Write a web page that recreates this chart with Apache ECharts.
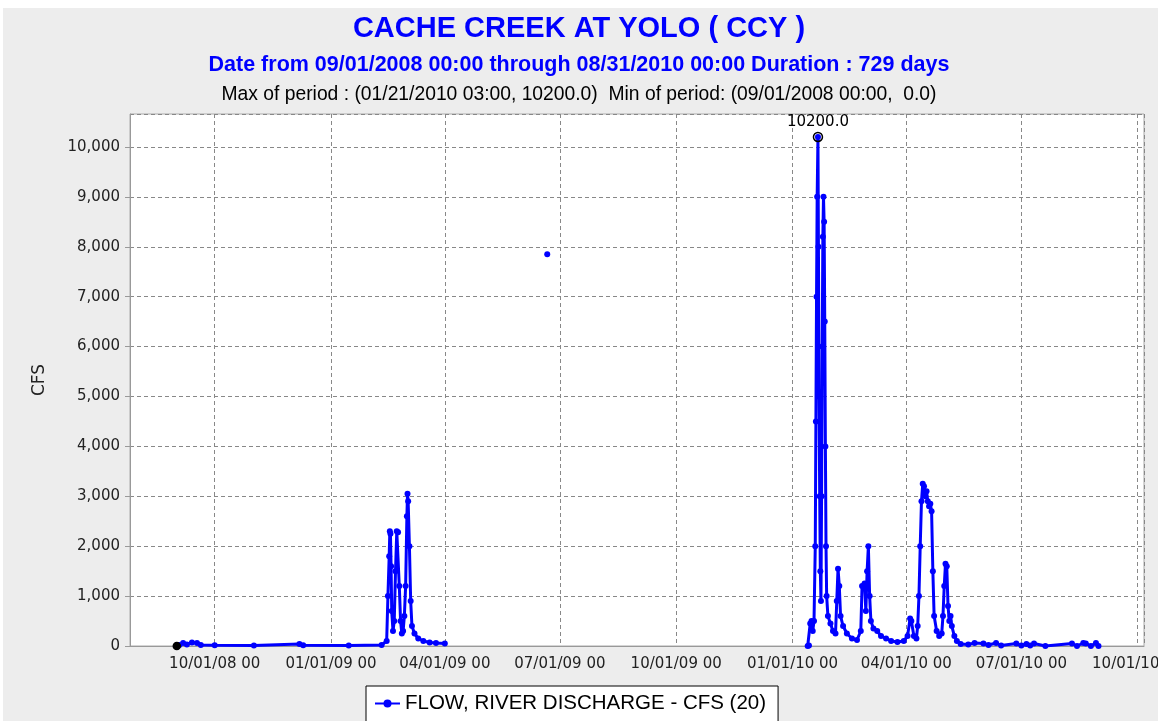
<!DOCTYPE html>
<html><head><meta charset="utf-8"><script src="https://cdn.jsdelivr.net/npm/echarts@6/dist/echarts.min.js"></script>
<style type="text/css">
html, body { height: 100%; margin: 0px; padding: 0px; background: #fff; }
</style></head><body><div id="main" style="width: 1158px;height:721px;"></div><script type="text/javascript">
// flow readings, water year 2009 (Sep 2008 - Apr 2009)
var flow2009 = [
['2008-09-01', 0], ['2008-09-03', 20], ['2008-09-06', 60], ['2008-09-09', 30], ['2008-09-13', 70],
['2008-09-17', 60], ['2008-09-20', 20], ['2008-10-01', 15], ['2008-11-01', 10], ['2008-12-07', 40],
['2008-12-10', 15], ['2009-01-15', 10], ['2009-02-10', 20], ['2009-02-14', 100], ['2009-02-15', 1000],
['2009-02-16', 1800], ['2009-02-16 12:00', 2300], ['2009-02-17', 2250], ['2009-02-17 12:00', 1600],
['2009-02-18', 700], ['2009-02-19', 300], ['2009-02-20', 500], ['2009-02-21', 1500],
['2009-02-22', 2300], ['2009-02-23', 2280], ['2009-02-24', 1200], ['2009-02-25', 500],
['2009-02-26', 250], ['2009-02-27', 300], ['2009-02-28', 600], ['2009-03-01', 1200],
['2009-03-02', 2600], ['2009-03-02 12:00', 3050], ['2009-03-03', 2900], ['2009-03-04', 2000],
['2009-03-05', 900], ['2009-03-06', 400], ['2009-03-08', 250], ['2009-03-11', 150],
['2009-03-15', 100], ['2009-03-20', 70], ['2009-03-25', 60], ['2009-04-01', 50]
];
// lone reading in the data gap
var flowStray = [['2009-06-21', 7850]];
// flow readings, water year 2010 (Jan - Aug 2010)
var flow2010 = [
['2010-01-13', 0], ['2010-01-14', 10], ['2010-01-15', 450], ['2010-01-16', 500], ['2010-01-17', 300],
['2010-01-18', 500], ['2010-01-19', 2000], ['2010-01-19 12:00', 4500], ['2010-01-20', 7000],
['2010-01-20 12:00', 9000], ['2010-01-21 03:00', 10200], ['2010-01-21 12:00', 8000], ['2010-01-22', 5000],
['2010-01-22 12:00', 3000], ['2010-01-23', 1500], ['2010-01-23 12:00', 900], ['2010-01-24', 3000],
['2010-01-24 12:00', 6000], ['2010-01-25', 8200], ['2010-01-25 12:00', 9000], ['2010-01-26', 8500],
['2010-01-26 12:00', 6500], ['2010-01-27', 4000], ['2010-01-27 12:00', 2000], ['2010-01-28', 1000],
['2010-01-29', 600], ['2010-01-31', 450], ['2010-02-02', 300], ['2010-02-04', 250], ['2010-02-05', 900],
['2010-02-06', 1550], ['2010-02-07', 1200], ['2010-02-08', 600], ['2010-02-10', 400], ['2010-02-13', 250],
['2010-02-17', 150], ['2010-02-21', 120], ['2010-02-24', 300], ['2010-02-25', 1200], ['2010-02-27', 1250],
['2010-02-28', 700], ['2010-03-01', 1500], ['2010-03-02', 2000], ['2010-03-03', 1000], ['2010-03-04', 500],
['2010-03-06', 350], ['2010-03-09', 300], ['2010-03-12', 200], ['2010-03-16', 150], ['2010-03-20', 100],
['2010-03-25', 80], ['2010-03-30', 100], ['2010-04-02', 200], ['2010-04-04', 550], ['2010-04-05', 500],
['2010-04-07', 200], ['2010-04-09', 150], ['2010-04-10', 400], ['2010-04-11', 1000], ['2010-04-12', 2000],
['2010-04-13', 2900], ['2010-04-14', 3250], ['2010-04-15', 3200], ['2010-04-16', 3000], ['2010-04-17', 3100],
['2010-04-18', 2900], ['2010-04-19', 2800], ['2010-04-20', 2850], ['2010-04-21', 2700], ['2010-04-22', 1500],
['2010-04-23', 600], ['2010-04-25', 300], ['2010-04-27', 200], ['2010-04-29', 250], ['2010-04-30', 600],
['2010-05-01', 1200], ['2010-05-02', 1650], ['2010-05-03', 1600], ['2010-05-04', 800], ['2010-05-05', 500],
['2010-05-06', 600], ['2010-05-07', 400], ['2010-05-09', 200], ['2010-05-11', 100], ['2010-05-14', 40],
['2010-05-20', 30], ['2010-05-25', 60], ['2010-06-01', 50], ['2010-06-05', 20], ['2010-06-11', 60],
['2010-06-15', 10], ['2010-06-27', 50], ['2010-07-01', 10], ['2010-07-05', 40], ['2010-07-08', 10],
['2010-07-11', 50], ['2010-07-20', 0], ['2010-08-10', 50], ['2010-08-14', 0], ['2010-08-19', 60],
['2010-08-21', 50], ['2010-08-25', 0], ['2010-08-29', 60], ['2010-08-31', 0]
];
var yTicks = [0, 1000, 2000, 3000, 4000, 5000, 6000, 7000, 8000, 9000, 10000];
var maxPoint = ['2010-01-21 03:00', 10200];
var minPoint = ['2008-09-01', 0];

var gap = [['2009-04-02', '-']];
var gap2 = [['2009-06-22', '-']];
var seriesData = flow2009.concat(gap, flowStray, gap2, flow2010);

function pad(n) { return n < 10 ? '0' + n : '' + n; }

var myChart = echarts.init(document.getElementById('main'));
var option = {
    backgroundColor: '#ffffff',
    animation: false,
    graphic: [{
        type: 'rect', left: 3, top: 8, z: -10,
        shape: { width: 1155, height: 713 },
        style: { fill: '#ededed' }
    }],
    title: [{
        text: 'CACHE CREEK AT YOLO ( CCY )',
        left: 'center', top: 9,
        textStyle: { color: '#0000ff', fontSize: 29, fontWeight: 'bold', fontFamily: 'Liberation Sans' }
    }, {
        text: 'Date from 09/01/2008 00:00 through 08/31/2010 00:00 Duration : 729 days',
        left: 'center', top: 49,
        textStyle: { color: '#0000ff', fontSize: 21.5, fontWeight: 'bold', fontFamily: 'Liberation Sans' }
    }, {
        text: 'Max of period : (01/21/2010 03:00, 10200.0)  Min of period: (09/01/2008 00:00,  0.0)',
        left: 'center', top: 80,
        textStyle: { color: '#000', fontSize: 19.3, fontWeight: 'normal', fontFamily: 'Liberation Sans' }
    }],
    legend: {
        left: 366, top: 686,
        backgroundColor: '#fff', borderColor: '#000', borderWidth: 1,
        padding: [7, 12, 12, 8],
        itemWidth: 25, itemHeight: 10,
        textStyle: { color: '#000', fontSize: 20.5, fontFamily: 'Liberation Sans' },
        data: ['FLOW, RIVER DISCHARGE - CFS (20)']
    },
    grid: {
        left: 130, right: 14, top: 114, bottom: 75, outerBoundsMode: 'none',
        show: true, backgroundColor: '#fff', borderColor: '#aaa', borderWidth: 1
    },
    xAxis: {
        type: 'time',
        min: '2008-07-26', max: '2010-10-06',
        splitNumber: 8,
        axisLine: { lineStyle: { color: '#999' } },
        axisTick: { show: false },
        axisLabel: {
            color: '#222', fontSize: 15, fontFamily: 'DejaVu Sans', margin: 11,
            showMinLabel: false, showMaxLabel: false, hideOverlap: false,
            formatter: function (v) {
                var d = new Date(v);
                return pad(d.getMonth() + 1) + '/' + pad(d.getDate()) + '/' + pad(d.getFullYear() % 100) + ' 00';
            }
        },
        splitLine: { show: true, lineStyle: { color: '#888', type: [4, 3], width: 1 } }
    },
    yAxis: {
        type: 'value',
        min: yTicks[0], max: 10660, interval: 1000,
        name: 'CFS', nameLocation: 'middle', nameGap: 82, nameRotate: 90,
        nameTextStyle: { color: '#222', fontSize: 17, fontFamily: 'DejaVu Sans' },
        axisLine: { show: true, lineStyle: { color: '#999' } },
        axisTick: { show: true, length: 5, lineStyle: { color: '#999' } },
        axisLabel: {
            color: '#222', fontSize: 15, fontFamily: 'DejaVu Sans', margin: 10, showMaxLabel: false,
            formatter: function (v) { return v.toLocaleString('en-US'); }
        },
        splitLine: { show: true, lineStyle: { color: '#888', type: [4, 3], width: 1 } }
    },
    series: [{
        name: 'FLOW, RIVER DISCHARGE - CFS (20)',
        type: 'line',
        data: seriesData,
        connectNulls: false,
        showAllSymbol: true,
        symbol: 'circle', symbolSize: 6,
        itemStyle: { color: '#0000ff' },
        lineStyle: { color: '#0000ff', width: 3 },
        markPoint: {
            symbol: 'circle', symbolSize: 9,
            itemStyle: { color: 'rgba(0,0,0,0)', borderColor: '#000', borderWidth: 1.5 },
            label: { show: false },
            data: [{
                coord: maxPoint,
                label: { show: true, position: 'top', distance: 2, formatter: '10200.0', color: '#000', fontSize: 15, fontFamily: 'DejaVu Sans' }
            }, {
                coord: minPoint,
                itemStyle: { color: '#000', borderColor: '#000' }, symbolSize: 7
            }]
        }
    }]
};
myChart.setOption(option);
</script></body></html>
